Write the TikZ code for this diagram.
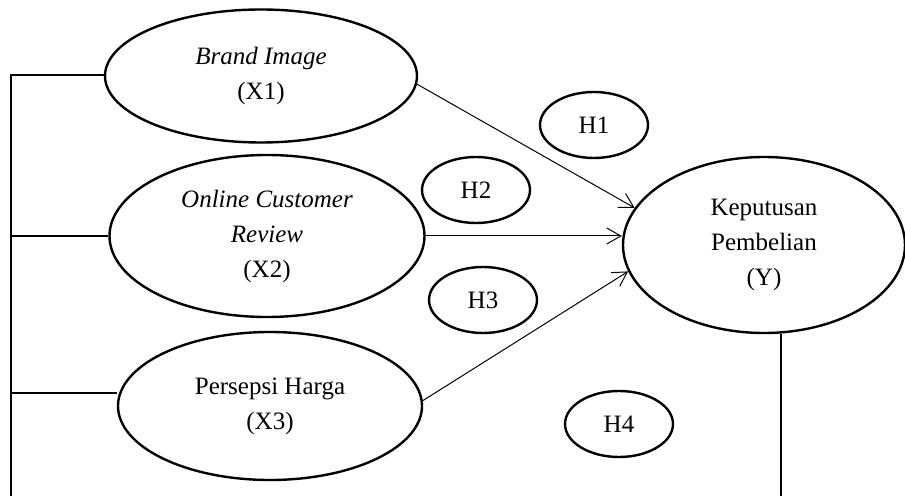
\documentclass[tikz,border=0pt]{standalone}
\usepackage{fontspec}
\setmainfont{Liberation Serif}
\usetikzlibrary{shapes, arrows.meta}
\tikzset{
    var/.style={draw, line width=1.2pt, ellipse, align=center, inner sep=0pt, font=\fontsize{12.5}{17.5}\selectfont}, % variables
    hyp/.style={style=var, minimum width=54pt, minimum height=33pt}, % hypotheses
    bracket/.style={draw, line width=0.65pt},
    e/.style={draw, line width=0.5pt, ->, >={Straight Barb[length=7pt, width=8pt]}}
}

\begin{document}
\begin{tikzpicture}[x=0.5pt, y=-0.5pt]
        \useasboundingbox (0, 0) rectangle (905, 496);

        \node[var, minimum width=156pt, minimum height=66.5pt] (brand_image) at (261, 76) {\textit{Brand Image}\\(X1)};
        \node[var, minimum width=157.5pt, minimum height=81pt] (online_review) at (267, 236) {\textit{Online Customer}\\\textit{Review}\\(X2)};
        \node[var, minimum width=152pt, minimum height=74pt] (persepsi_harga) at (270, 406) {Persepsi Harga\\(X3)};
        \node[var, minimum width=141pt, minimum height=88pt] (keputusan) at (764, 245) {Keputusan\\Pembelian\\(Y)};

        \node[hyp] (h1) at (594, 125) {H1};
        \node[hyp] (h2) at (476, 190) {H2};
        \node[hyp] (h3) at (483, 300) {H3};
        \node[hyp] (h4) at (619, 424) {H4};

        \coordinate (left_x1) at (11, 75);
        \coordinate (left_x2) at (11, 236);
        \coordinate (left_x3) at (11, 393);
        \coordinate (left_bottom) at (11, 496);
        \coordinate (y_bottom) at (781, 496);

        \draw[bracket] (left_x1 -| brand_image.west) -- (left_x1) -- (left_bottom);
        \draw[bracket] (left_x2) -- (left_x2 -| online_review.west);
        \draw[bracket] (left_x3) -- (left_x3 -| persepsi_harga.west);
        \draw[bracket] (keputusan.south -| y_bottom) -- (y_bottom);

        \draw[e] (brand_image.-3) to (keputusan.164);
        \draw[e] (online_review.east) to (online_review.east -| keputusan.west);
        \draw[e] (persepsi_harga.2) to (keputusan.191);
      \end{tikzpicture}
\end{document}
